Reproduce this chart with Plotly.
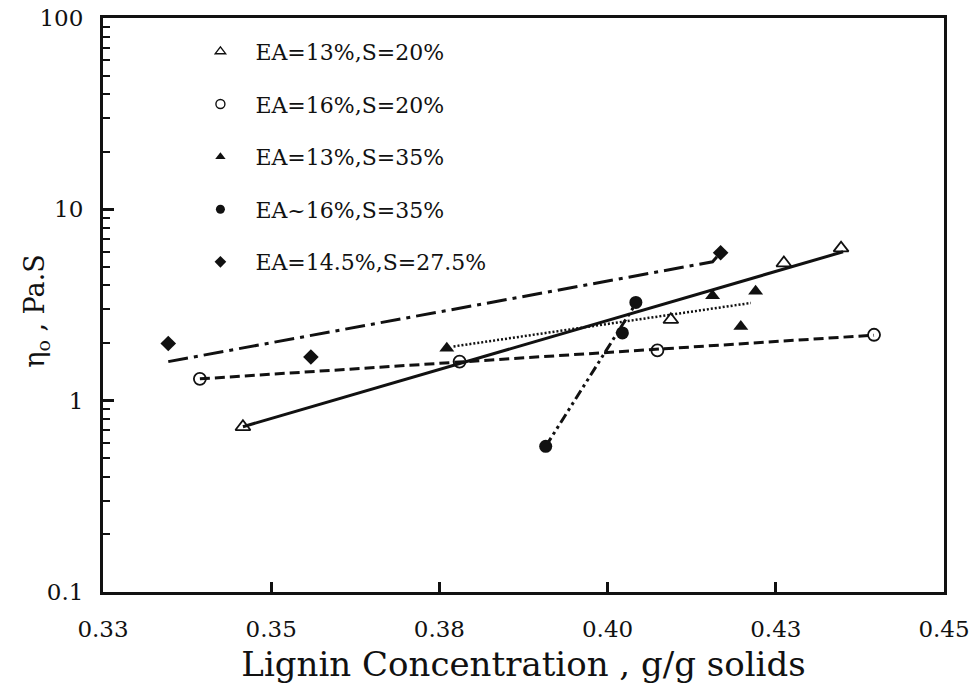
import plotly.graph_objects as go

# Measured zero-shear viscosity vs. lignin concentration
ea13_s20_x = [0.3458, 0.4094, 0.4262, 0.4347]
ea13_s20_y = [0.73, 2.65, 5.24, 6.27]

ea16_s20_x = [0.3394, 0.3780, 0.4074, 0.4396]
ea16_s20_y = [1.30, 1.60, 1.83, 2.21]

ea13_s35_x = [0.3761, 0.4156, 0.4198, 0.4220]
ea13_s35_y = [1.88, 3.53, 2.44, 3.73]

ea16_s35_x = [0.3908, 0.4022, 0.4042]
ea16_s35_y = [0.577, 2.26, 3.26]

ea145_s275_x = [0.3347, 0.3559, 0.4168]
ea145_s275_y = [1.99, 1.69, 5.93]

# Fitted trend lines (end points)
fit_ea13_s20_x = [0.3458, 0.4350]
fit_ea13_s20_y = [0.731, 6.0]
fit_ea16_s20_x = [0.3394, 0.4396]
fit_ea16_s20_y = [1.30, 2.20]
fit_ea13_s35_x = [0.3771, 0.4213]
fit_ea13_s35_y = [1.92, 3.24]
fit_ea16_s35_x = [0.3908, 0.4039]
fit_ea16_s35_y = [0.577, 3.10]
fit_ea145_s275_x = [0.3347, 0.4156, 0.4168]
fit_ea145_s275_y = [1.60, 5.32, 5.93]

labels = ["EA=13%,S=20%", "EA=16%,S=20%", "EA=13%,S=35%",
          "EA~16%,S=35%", "EA=14.5%,S=27.5%"]

x_tickvals = [0.325, 0.35, 0.375, 0.40, 0.425, 0.45]
x_ticktext = ["0.33", "0.35", "0.38", "0.40", "0.43", "0.45"]
y_tickvals = [0.1, 1, 10, 100]
y_ticktext = ["0.1", "1", "10", "100"]

FONT = "DejaVu Serif"
INK = "#111111"

fig = go.Figure()

fits = [
    (fit_ea13_s20_x, fit_ea13_s20_y, "solid", 3),
    (fit_ea16_s20_x, fit_ea16_s20_y, "10px,5px", 3),
    (fit_ea13_s35_x, fit_ea13_s35_y, "2px,2px", 2.5),
    (fit_ea16_s35_x, fit_ea16_s35_y, "10px,4px,3px,4px,3px,4px", 3),
    (fit_ea145_s275_x, fit_ea145_s275_y, "20px,6px,4px,6px", 3),
]
for fx, fy, dash, w in fits:
    fig.add_trace(go.Scatter(x=fx, y=fy, mode="lines", showlegend=False,
                             hoverinfo="skip",
                             line=dict(color=INK, width=w, dash=dash)))

series = [
    (ea13_s20_x, ea13_s20_y, "triangle-up-open", 13),
    (ea16_s20_x, ea16_s20_y, "circle-open", 12),
    (ea13_s35_x, ea13_s35_y, "triangle-up", 13),
    (ea16_s35_x, ea16_s35_y, "circle", 13),
    (ea145_s275_x, ea145_s275_y, "diamond", 12),
]
for i, (sx, sy, sym, sz) in enumerate(series):
    fig.add_trace(go.Scatter(
        x=sx, y=sy, mode="markers", showlegend=False,
        marker=dict(symbol=sym, size=sz, color=INK,
                    line=dict(color=INK, width=1.8 if "open" in sym else 0)),
        name=labels[i]))

# Legend entries with smaller symbols
for i, (sx, sy, sym, sz) in enumerate(series):
    fig.add_trace(go.Scatter(
        x=[None], y=[None], mode="markers", name=labels[i],
        legendgroup=f"g{i}",
        marker=dict(symbol=sym, size=9, color=INK,
                    line=dict(color=INK, width=1.4 if "open" in sym else 0))))

fig.update_layout(
    width=973, height=693,
    margin=dict(l=103, r=29, t=18, b=101),
    paper_bgcolor="white", plot_bgcolor="white",
    font=dict(family=FONT, color=INK),
    showlegend=True,
    legend=dict(x=0.098, y=0.978, xanchor="left", yanchor="top",
                bgcolor="rgba(0,0,0,0)", borderwidth=0,
                font=dict(family=FONT, size=22, color=INK),
                tracegroupgap=21, itemwidth=60),
    xaxis=dict(range=[0.325, 0.45], tickmode="array", automargin=False,
               tickvals=x_tickvals, ticktext=x_ticktext,
               ticks="inside", ticklen=10, tickwidth=3, tickcolor=INK,
               showline=True, linewidth=3, linecolor=INK, mirror=True,
               showgrid=False, zeroline=False, ticklabelstandoff=14,
               tickfont=dict(family=FONT, size=23, color=INK),
               title=dict(text="Lignin Concentration , g/g solids",
                          font=dict(family=FONT, size=34, color=INK),
                          standoff=12)),
    yaxis=dict(type="log", range=[-1, 2], tickmode="array", automargin=False,
               tickvals=y_tickvals, ticktext=y_ticktext,
               ticks="inside", ticklen=11, tickwidth=3, tickcolor=INK,
               minor=dict(ticks="inside", ticklen=7, tickwidth=2,
                          tickcolor=INK, showgrid=False,
                          tickvals=[m * d for d in (0.1, 1, 10)
                                    for m in range(2, 10)]),
               showline=True, linewidth=3, linecolor=INK, mirror=True,
               showgrid=False, zeroline=False, ticklabelstandoff=12,
               tickfont=dict(family=FONT, size=23, color=INK)),
    annotations=[dict(text="\u03b7<sub>o</sub> , Pa.S", textangle=-90,
                      xref="paper", yref="paper", x=-0.0785, y=0.49,
                      xanchor="center", yanchor="middle", showarrow=False,
                      font=dict(family=FONT, size=27, color=INK))],
)

fig.write_html("out.html")
